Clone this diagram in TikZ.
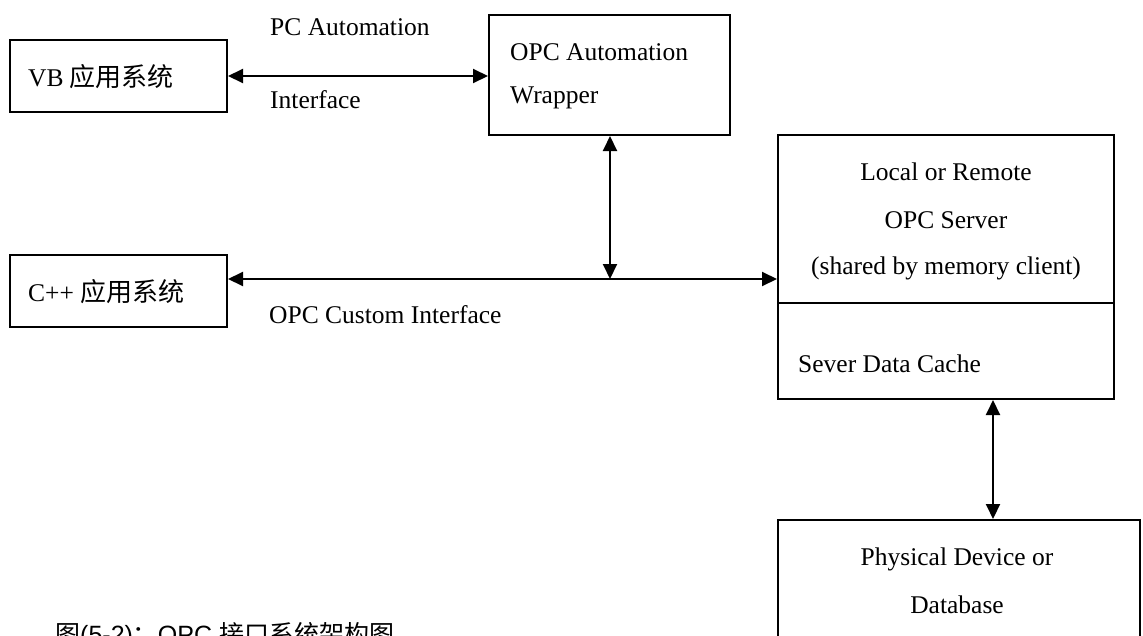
\documentclass[tikz,border=0pt]{standalone}
\usepackage{fontspec}
\setmainfont{Liberation Serif}
\newfontfamily\cjk{Noto Sans CJK SC}
\newfontfamily\capsans{Liberation Sans}
\usetikzlibrary{arrows.meta,calc}
\begin{document}
\begin{tikzpicture}[x=1pt,y=-1pt,
  box/.style={draw,line width=2pt,inner sep=0pt},
  lbl/.style={inner sep=0pt,font=\fontsize{25.5}{30}\selectfont},
  conn/.style={line width=2pt,{Triangle[length=15pt,width=14pt]}-{Triangle[length=15pt,width=14pt]}}]
\useasboundingbox (0,0) rectangle (1143,635);
\clip (0,0) rectangle (1143,635);
% boxes
\node[box,minimum width=217pt,minimum height=72pt] (vb) at (118.5,76) {};
\node[box,minimum width=241pt,minimum height=120pt] (wrap) at (609.5,75) {};
\node[box,minimum width=217pt,minimum height=72pt] (cpp) at (118.5,291) {};
\node[box,minimum width=336pt,minimum height=264pt] (server) at (946,267) {};
\node[box,minimum width=362pt,minimum height=160pt] (phys) at (959,600) {};
\coordinate (div) at (946,303);
\draw[line width=1.6pt] (server.west |- div) -- (server.east |- div);
% texts
\node[lbl,anchor=base west] (tvb) at (28,86) {VB {\cjk\fontsize{26}{30}\selectfont 应用系统}};
\node[lbl,anchor=base west] (tcpp) at (28,301) {C++ {\cjk\fontsize{26}{30}\selectfont 应用系统}};
\node[lbl,anchor=base west] (pca) at (270,35) {PC Automation};
\node[lbl,anchor=base west] (pci) at (270,108) {Interface};
\node[lbl,anchor=base west] (w1) at (510,60) {OPC Automation};
\node[lbl,anchor=base west] (w2) at (510,103) {Wrapper};
\node[lbl,anchor=base] (s1) at (946,180) {Local or Remote};
\node[lbl,anchor=base] (s2) at (946,228) {OPC Server};
\node[lbl,anchor=base] (s3) at (946,274) {(shared by memory client)};
\node[lbl,anchor=base west] (s4) at (798,372) {Sever Data Cache};
\node[lbl,anchor=base west] (occ) at (269,323) {OPC Custom Interface};
\node[lbl,anchor=base] (p1) at (957,565) {Physical Device or};
\node[lbl,anchor=base] (p2) at (957,613) {Database};
\node[inner sep=0pt,anchor=base west,font=\fontsize{25}{30}\selectfont] (cap) at (55,643)
  {{\cjk 图}{\capsans (5-2)}{\cjk ：}{\capsans OPC }{\cjk 接口系统架构图}};
% connectors
\coordinate (j) at (610,279);
\coordinate (b) at (993,460);
\draw[conn] (vb.east) -- (wrap.west |- vb.east);
\draw[conn] (wrap.south -| j) -- (j);
\draw[conn] (cpp.east |- j) -- (server.west |- j);
\draw[conn] (server.south -| b) -- (phys.north -| b);
\end{tikzpicture}
\end{document}
